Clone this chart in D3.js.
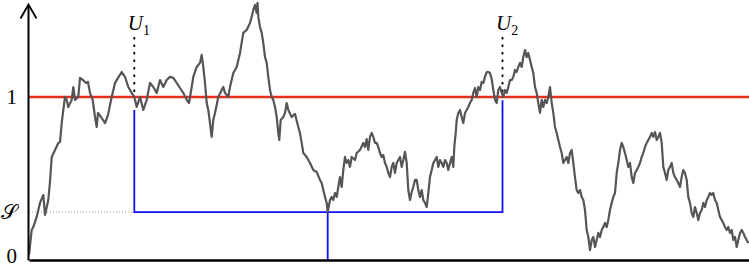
<!DOCTYPE html>
<html><head><meta charset="utf-8">
<script src="https://cdn.jsdelivr.net/npm/d3@7"></script>
<style>html,body{margin:0;padding:0;background:#fff;overflow:hidden}</style>
</head><body><svg id="c" width="749" height="269"></svg>
<script>
// ---- data (time steps 0..720, level in units of the threshold) ----
const times = [
 0,2.7,4.3,7.7,11,14.3,16,19.3,21,22.7,26,29.3,31,32.7,34.3,36,37.7,39.3,42.7,44.3,46,49.3,51,54,57,59,61,63.7,66,67.7,69,72.7,76,79,82.7,86,89,92.7,96,
 99.3,102.7,105.3,107.7,111,114.3,117.7,121,124.3,127.7,131,134.3,137.7,141,144.3,147.7,151,154.3,157.7,160,162.7,164.3,167.7,171,172.7,174.3,176,177.7,179.3,181,182.7,184.3,186,189.3,192.7,194.3,196,199.3,201,204.3,207.7,211,214.3,217.7,221,222.7,224.3,226,227.7,228.5,229.3,
 231,232.7,234.3,236,237.7,239.3,241,242.7,244.3,246,247.7,249.3,250.3,251.7,254.3,256,257.7,259.3,262.7,266,269.3,271,272.7,274.3,277.7,281,284.3,287.7,291,292.7,294.3,296,297.7,298.7,301,302.7,304.3,306,307.7,309.3,311,312.7,314.3,316,317.7,319.3,321,322.7,326,327.7,331,334.3,336,337.7,339.3,341,342.7,344.3,346,
 347.7,349.3,351,352.7,354.3,356,357.7,359.3,361,362.7,364.3,366,367.7,369.3,371,372.7,374.3,376,377.7,379.3,381,382.7,384.3,386,387.7,389.3,391,392.7,394.3,396,397.7,399.3,401,402.7,404.3,406,407.7,409.3,411,412.7,414.3,416,417.7,419.3,421,422.7,424.3,425.3,426.7,427.7,429.3,431,432.7,434.3,436,437.7,439.3,441,442.7,444.3,446,447.7,449.3,451,452.7,454.3,456,457.7,459.3,461,462.7,464.3,466,467.7,469.3,471,472.7,474.3,
 476,477.7,479.3,481,482.7,484.3,486,487.7,489.3,491,492.7,494.3,496,497.7,499.3,501,502.7,504.3,506,507.7,509.3,511,512.7,514.3,516,517.7,519.3,521,522.7,524.3,526,527.7,529.3,531,532.7,534.3,536,537.7,539.3,541,542.7,544.3,546,547.7,549.3,551,552.7,554.3,556,557.7,559.3,561,562.7,564.3,566,567.7,569.3,571,572.7,574.3,576,577.7,579.3,581,582.7,584.3,586,587.7,589.3,591,592.7,
 594.3,596,597.7,599.3,601,602.7,604.3,606,607.7,609.3,611,612.7,614.3,616,617.7,619.3,621,622.7,624.3,626,627.7,629.3,631,632.7,634.3,636,637.7,639.3,641,642.7,644.3,646,647.7,649.3,651,652.7,654.3,656,657.7,659.3,661,662.7,664.3,666,667.7,669.3,671,672.7,674.3,676,677.7,679.3,681,682.7,684.3,686,687.7,689.3,691,692.7,694.3,696,697.7,699.3,701,702.7,704.3,706,707.7,709.3,711,712.7,714.3,716,717.7,719.3
];
const values = [
 .031,.184,.202,.264,.350,.399,.276,.368,.479,.632,.675,.718,.724,.840,.920,1.000,.982,.939,.982,1.061,.982,1.000,1.117,1.104,1.086,1.092,1.025,.982,.877,.816,.902,.871,.840,.890,1.000,1.086,1.117,1.153,1.123,
 1.061,1.025,1.000,.939,1.000,.920,.982,1.086,1.061,1.025,1.104,1.061,1.104,1.123,1.117,1.086,1.055,1.025,.982,.963,1.061,1.123,1.184,1.209,1.258,1.184,1.086,.963,.920,.840,.755,.859,.902,1.000,1.043,1.061,1.025,1.000,1.061,1.147,1.184,1.270,1.393,1.411,1.454,1.491,1.534,1.564,1.515,1.577,1.491,
 1.429,1.393,1.331,1.245,1.209,1.123,1.043,1.000,.982,.939,.877,.779,.736,.859,.877,.902,.963,.920,.877,.896,.816,.779,.718,.656,.632,.595,.552,.540,.491,.472,.429,.387,.350,.294,.368,.387,.368,.411,.387,.448,.509,.448,.552,.632,.595,.613,.571,.632,.613,.656,.675,.718,.693,.742,.675,.755,.779,.755,.718,
 .718,.693,.656,.632,.644,.595,.571,.534,.509,.571,.595,.534,.595,.613,.632,.571,.613,.663,.595,.429,.368,.417,.448,.491,.491,.429,.387,.429,.368,.350,.325,.411,.509,.552,.595,.613,.632,.571,.613,.595,.571,.613,.595,.552,.595,.632,.571,.693,.779,.859,.902,.920,.877,.840,.902,.920,.939,.963,.982,1.025,1.055,1.000,1.061,1.043,1.092,1.086,1.123,1.153,1.153,1.147,1.110,1.043,.982,.963,1.043,1.061,1.025,1.000,
 1.043,1.025,1.061,1.104,1.104,1.123,1.166,1.153,1.184,1.209,1.184,1.245,1.288,1.245,1.270,1.227,1.184,1.147,1.061,1.025,.963,.902,.982,.939,.982,.963,1.000,1.061,.963,.902,.816,.779,.736,.693,.656,.595,.613,.632,.595,.656,.675,.595,.509,.429,.411,.429,.387,.368,.307,.184,.141,.061,.123,.141,.080,.123,.166,.141,.184,.202,.227,.202,.245,.307,.350,.387,.411,.534,.595,.675,.718,
 .693,.656,.613,.571,.595,.509,.472,.534,.552,.571,.595,.632,.656,.693,.718,.736,.755,.779,.755,.785,.736,.755,.779,.718,.571,.534,.491,.552,.571,.595,.534,.509,.491,.472,.448,.509,.552,.534,.491,.387,.350,.288,.264,.325,.288,.245,.288,.307,.350,.325,.368,.387,.411,.399,.411,.368,.350,.307,.264,.245,.227,.202,.184,.202,.166,.184,.123,.141,.080,.123,.166,.184,.166,.141,.123,.104
];
const threshold = 1;
const sLevel = 0.294;               // level of the minimum between U1 and U2
const hitTimes = [105.3, 473.5];    // U1, U2
const hitSubs = ["1", "2"];
const blueTops = [0.92, 0.98];
const minTime = 298.7;
const labelTop = 1.368;
const tickValues = [0, sLevel, 1];
const tickLabels = ["0", "\u{1D4AE}", "1"];

// ---- scales ----
const x = d3.scaleLinear().domain([0, 720]).range([29, 749]);
const y = d3.scaleLinear().domain([0, 1.564]).range([260, 5]);
const svg = d3.select("#c");
const serif = "'Liberation Serif', 'DejaVu Serif', serif";

// dotted guide at S
svg.append("line")
  .attr("x1", x(0)).attr("x2", x(hitTimes[0]))
  .attr("y1", y(sLevel)).attr("y2", y(sLevel))
  .attr("stroke", "#9a9a9a").attr("stroke-width", 1).attr("stroke-dasharray", "1,2");

// blue construction
const ln = d3.line().x(d => x(d[0])).y(d => y(d[1]));
svg.append("path")
  .attr("d", ln([[hitTimes[0], blueTops[0]], [hitTimes[0], sLevel], [hitTimes[1], sLevel], [hitTimes[1], blueTops[1]]]))
  .attr("fill", "none").attr("stroke", "#1010ff").attr("stroke-width", 1.8);
svg.append("path")
  .attr("d", ln([[minTime, sLevel], [minTime, 0]]))
  .attr("fill", "none").attr("stroke", "#1010ff").attr("stroke-width", 1.8);

// dotted verticals above U1, U2
hitTimes.forEach(t => {
  svg.append("path").attr("d", ln([[t, labelTop], [t, threshold]]))
    .attr("stroke", "#000").attr("stroke-width", 1.8).attr("stroke-dasharray", "2.5,5").attr("fill", "none");
});

// threshold line
svg.append("path").attr("d", ln([[0, threshold], [720, threshold]]))
  .attr("stroke", "#e2301c").attr("stroke-width", 2.6).attr("fill", "none");

// the path
const pts = times.map((t, i) => [t, values[i]]);
svg.append("path").attr("d", ln(pts))
  .attr("fill", "none").attr("stroke", "#555").attr("stroke-width", 2.2).attr("stroke-linejoin", "round");

// axes
const gy = svg.append("g").attr("transform", "translate(28,0)")
  .call(d3.axisLeft(y).tickValues(tickValues).tickFormat((d, i) => tickLabels[i]).tickSize(0).tickPadding(11));
gy.select(".domain").attr("stroke-width", 2);
gy.selectAll("text").attr("font-family", serif).attr("font-size", 21).attr("fill", "#000");
gy.selectAll(".tick text").filter(d => d === 0).attr("dy", "0.12em");
gy.append("path").attr("d", "M-7.5,18.5L0.5,4.5L8.5,18.5").attr("fill", "none").attr("stroke", "#000").attr("stroke-width", 1.8);

const gx = svg.append("g").attr("transform", "translate(0,260)")
  .call(d3.axisBottom(x).tickValues([]).tickSizeOuter(0));
gx.select(".domain").attr("stroke-width", 2.6);

// U labels
hitTimes.forEach((t, i) => {
  const tx = svg.append("text").attr("x", x(t) - 6.5).attr("y", 30)
    .attr("font-family", serif).attr("font-size", 21).attr("fill", "#000");
  tx.append("tspan").attr("font-style", "italic").text("U");
  tx.append("tspan").attr("font-size", 14).attr("dy", 5).text(hitSubs[i]);
});
</script>
</body></html>
